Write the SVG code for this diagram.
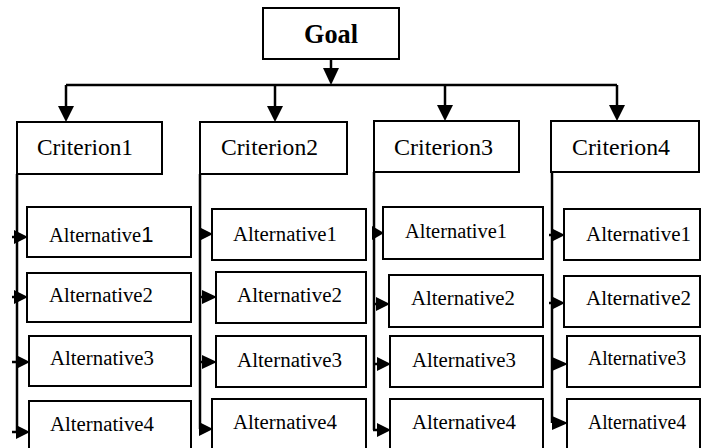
<svg xmlns="http://www.w3.org/2000/svg" width="702" height="448" viewBox="0 0 702 448">
<style>
.box{fill:#fff;stroke:#000;stroke-width:2}
.ln{fill:none;stroke:#000;stroke-width:2.5}
.hd{fill:#000;stroke:none}
text{font-family:'Liberation Serif','Times New Roman',serif;fill:#000}
.g{font-size:27px;font-weight:bold}
.c{font-size:24px}
.a{font-size:20.5px}
</style>
<rect width="702" height="448" fill="#fff"/>
<g id="connectors">
<line class="ln" x1="331" y1="59" x2="331" y2="70"/>
<polygon class="hd" points="323,68 339,68 331,85"/>
<line class="ln" x1="66" y1="85" x2="617" y2="85"/>
<line class="ln" x1="66" y1="85" x2="66" y2="108"/>
<polygon class="hd" points="58,106 74,106 66,122"/>
<line class="ln" x1="275" y1="85" x2="275" y2="108"/>
<polygon class="hd" points="267,106 283,106 275,122"/>
<line class="ln" x1="445" y1="85" x2="445" y2="107"/>
<polygon class="hd" points="437,105 453,105 445,121"/>
<line class="ln" x1="617" y1="85" x2="617" y2="107"/>
<polygon class="hd" points="609,105 625,105 617,121"/>
<line class="ln" x1="17" y1="174" x2="17" y2="432"/>
<line class="ln" x1="200" y1="174" x2="200" y2="429"/>
<line class="ln" x1="374" y1="172" x2="374" y2="430"/>
<line class="ln" x1="552" y1="172" x2="552" y2="423"/>
<line class="ln" x1="12" y1="237" x2="16" y2="237"/><polygon class="hd" points="14,230 28,237 14,244"/>
<line class="ln" x1="12" y1="297" x2="16" y2="297"/><polygon class="hd" points="14,290 28,297 14,304"/>
<line class="ln" x1="12" y1="362" x2="18" y2="362"/><polygon class="hd" points="16,355 30,362 16,369"/>
<line class="ln" x1="12" y1="432" x2="18" y2="432"/><polygon class="hd" points="16,425 30,432 16,439"/>
<line class="ln" x1="199" y1="234" x2="201" y2="234"/><polygon class="hd" points="199,227 213,234 199,241"/>
<line class="ln" x1="199" y1="297" x2="205" y2="297"/><polygon class="hd" points="202,290 217,297 202,304"/>
<line class="ln" x1="199" y1="362" x2="205" y2="362"/><polygon class="hd" points="202,355 217,362 202,369"/>
<line class="ln" x1="199" y1="429" x2="201" y2="429"/><polygon class="hd" points="199,422 213,429 199,436"/>
<polygon class="hd" points="372,226 384,233 372,240"/>
<line class="ln" x1="373" y1="304" x2="378" y2="304"/><polygon class="hd" points="376,297 390,304 376,311"/>
<line class="ln" x1="373" y1="364" x2="379" y2="364"/><polygon class="hd" points="377,357 391,364 377,371"/>
<line class="ln" x1="373" y1="430" x2="379" y2="430"/><polygon class="hd" points="377,423 391,430 377,437"/>
<line class="ln" x1="549" y1="235" x2="553" y2="235"/><polygon class="hd" points="551,228 565,235 551,242"/>
<line class="ln" x1="549" y1="303" x2="553" y2="303"/><polygon class="hd" points="551,296 565,303 551,310"/>
<polygon class="hd" points="552,357 568,364 552,371"/>
<polygon class="hd" points="552,416 568,423 552,430"/>
</g>
<g id="goal"><rect class="box" x="263" y="8" width="136" height="51"/><text class="g" x="304" y="43" textLength="54" lengthAdjust="spacingAndGlyphs">Goal</text></g>
<g id="criterion1"><rect class="box" x="17" y="122" width="145" height="52"/><text class="c" x="37" y="155" textLength="96" lengthAdjust="spacingAndGlyphs">Criterion1</text></g>
<g id="criterion2"><rect class="box" x="200" y="122" width="147" height="52"/><text class="c" x="221" y="155" textLength="97" lengthAdjust="spacingAndGlyphs">Criterion2</text></g>
<g id="criterion3"><rect class="box" x="374" y="121" width="145" height="51"/><text class="c" x="394" y="155" textLength="99" lengthAdjust="spacingAndGlyphs">Criterion3</text></g>
<g id="criterion4"><rect class="box" x="551" y="121" width="148" height="51"/><text class="c" x="572" y="155" textLength="98" lengthAdjust="spacingAndGlyphs">Criterion4</text></g>
<g id="c1a1"><rect class="box" x="27" y="207" width="164" height="50"/><text class="a" x="49" y="242">Alternative<tspan style="font-family:'Liberation Sans',Arial,sans-serif;font-size:22px">1</tspan></text></g>
<g id="c1a2"><rect class="box" x="27" y="273" width="164" height="49"/><text class="a" x="49" y="302" textLength="104" lengthAdjust="spacingAndGlyphs">Alternative2</text></g>
<g id="c1a3"><rect class="box" x="29" y="336" width="162" height="50"/><text class="a" x="50" y="365" textLength="104" lengthAdjust="spacingAndGlyphs">Alternative3</text></g>
<g id="c1a4"><rect class="box" x="29" y="401" width="162" height="60"/><text class="a" x="50" y="431" textLength="104" lengthAdjust="spacingAndGlyphs">Alternative4</text></g>
<g id="c2a1"><rect class="box" x="212" y="209" width="154" height="51"/><text class="a" x="233" y="241" textLength="104" lengthAdjust="spacingAndGlyphs">Alternative1</text></g>
<g id="c2a2"><rect class="box" x="216" y="272" width="150" height="51"/><text class="a" x="237" y="302" textLength="105" lengthAdjust="spacingAndGlyphs">Alternative2</text></g>
<g id="c2a3"><rect class="box" x="216" y="336" width="150" height="51"/><text class="a" x="237" y="367" textLength="105" lengthAdjust="spacingAndGlyphs">Alternative3</text></g>
<g id="c2a4"><rect class="box" x="212" y="399" width="154" height="62"/><text class="a" x="233" y="429" textLength="104" lengthAdjust="spacingAndGlyphs">Alternative4</text></g>
<g id="c3a1"><rect class="box" x="383" y="207" width="160" height="52"/><text class="a" x="405" y="238" textLength="102" lengthAdjust="spacingAndGlyphs">Alternative1</text></g>
<g id="c3a2"><rect class="box" x="389" y="275" width="154" height="52"/><text class="a" x="411" y="305" textLength="104" lengthAdjust="spacingAndGlyphs">Alternative2</text></g>
<g id="c3a3"><rect class="box" x="390" y="336" width="153" height="51"/><text class="a" x="412" y="367" textLength="104" lengthAdjust="spacingAndGlyphs">Alternative3</text></g>
<g id="c3a4"><rect class="box" x="390" y="399" width="153" height="62"/><text class="a" x="412" y="429" textLength="104" lengthAdjust="spacingAndGlyphs">Alternative4</text></g>
<g id="c4a1"><rect class="box" x="564" y="209" width="136" height="51"/><text class="a" x="586" y="241" textLength="105" lengthAdjust="spacingAndGlyphs">Alternative1</text></g>
<g id="c4a2"><rect class="box" x="564" y="276" width="136" height="51"/><text class="a" x="586" y="305" textLength="105" lengthAdjust="spacingAndGlyphs">Alternative2</text></g>
<g id="c4a3"><rect class="box" x="567" y="336" width="133" height="51"/><text class="a" x="588" y="365" textLength="98" lengthAdjust="spacingAndGlyphs">Alternative3</text></g>
<g id="c4a4"><rect class="box" x="567" y="399" width="133" height="62"/><text class="a" x="588" y="429" textLength="98" lengthAdjust="spacingAndGlyphs">Alternative4</text></g>
</svg>
